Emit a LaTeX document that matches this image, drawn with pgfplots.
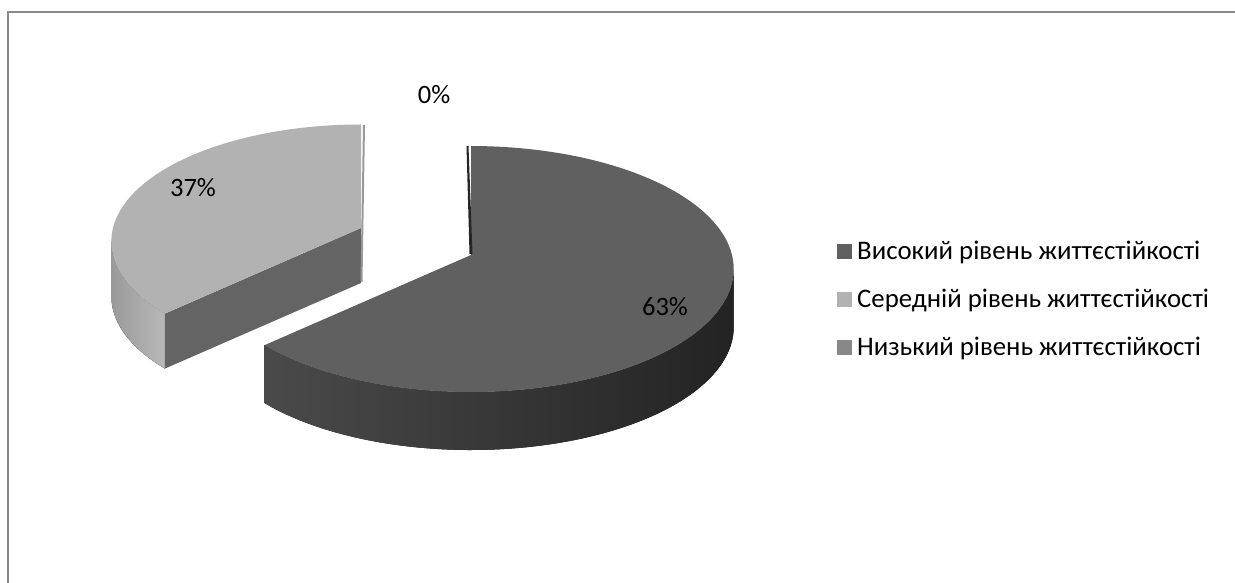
\documentclass[border=0pt]{standalone}
\usepackage{fontspec}
\setmainfont{Carlito}
\usepackage{pgfplots}
\pgfplotsset{compat=1.18}
\usepgfplotslibrary{fillbetween}

\definecolor{hiTop}{HTML}{606060}
\definecolor{hiSideL}{HTML}{4A4A4A}
\definecolor{hiSideR}{HTML}{232323}
\definecolor{midTop}{HTML}{B2B2B2}
\definecolor{midCut}{HTML}{646464}
\definecolor{midSideL}{HTML}{9A9A9A}
\definecolor{midSideR}{HTML}{B8B8B8}
\definecolor{lowCol}{HTML}{888888}
\definecolor{frameCol}{HTML}{8A8A8A}

% ---- data (percent) ----
\def\vHigh{63}
\def\vMid{37}
\def\vLow{0}

% ---- geometry (1 unit = 1 px) ----
\def\pa{0.114}
\def\cxA{471}\def\cyA{328}\def\rxA{261}\def\ryA{121.4}\def\dA{58}
\def\cxB{361}\def\cyB{355}\def\rxB{248}\def\ryB{115.3}\def\dB{55}

\pgfmathsetmacro\aSplit{90-3.6*\vHigh}
\pgfmathsetmacro\aMidEnd{90+3.6*\vMid}
\pgfmathsetmacro\silA{-asin(\pa)}
\pgfmathsetmacro\silB{180+asin(\pa)}
\pgfmathsetmacro\pBx{\cxB+\rxB*cos(\aMidEnd)/(1+\pa*sin(\aMidEnd))}
\pgfmathsetmacro\pBy{\cyB+\ryB*sin(\aMidEnd)/(1+\pa*sin(\aMidEnd))}
\pgfmathsetmacro\pByd{\pBy-\dB}
\pgfmathsetmacro\cyBd{\cyB-\dB}

\begin{document}%
\begin{tikzpicture}
\begin{axis}[
  x=1pt, y=1pt, xmin=0, xmax=1235, ymin=0, ymax=583,
  hide axis, clip=false,
  legend style={at={(axis cs:837,282.5)}, anchor=west, draw=none, fill=none,
    inner sep=0pt, outer sep=0pt, row sep=20pt,
    font=\fontsize{26.8}{32}\selectfont,
    nodes={inner sep=0pt, text height=21pt, text depth=7pt, anchor=base west}},
  legend image code/.code={\fill[#1, draw=none] (0pt,0pt) rectangle (15pt,15pt); \path (20pt,0pt);},
]
\coordinate (bbSW) at (axis cs:0,0);
\coordinate (bbNE) at (axis cs:1235,583);
% frame
\addplot[forget plot, frameCol, line width=2pt] coordinates {(8,0) (8,570.5) (1235,570.5)};

% ---- medium slice (37%) ----
\addplot[forget plot, name path=mT, draw=none, domain=\silB:\aMidEnd, samples=60, variable=\t]
  ({\cxB+\rxB*cos(\t)/(1+\pa*sin(\t))}, {\cyB+\ryB*sin(\t)/(1+\pa*sin(\t))});
\addplot[forget plot, name path=mB, draw=none, domain=\silB:\aMidEnd, samples=60, variable=\t]
  ({\cxB+\rxB*cos(\t)/(1+\pa*sin(\t))}, {\cyB-\dB+\ryB*sin(\t)/(1+\pa*sin(\t))});
\addplot[forget plot, left color=midSideL, right color=midSideR, draw=none] fill between[of=mT and mB];
\addplot[forget plot, fill=midCut, draw=none] coordinates {(\cxB,\cyB) (\pBx,\pBy) (\pBx,\pByd) (\cxB,\cyBd)} -- cycle;
\addplot[forget plot, fill=midTop, draw=none, domain=90:\aMidEnd, samples=100, variable=\t]
  ({\cxB+\rxB*cos(\t)/(1+\pa*sin(\t))}, {\cyB+\ryB*sin(\t)/(1+\pa*sin(\t))}) -- (axis cs:\cxB,\cyB) -- cycle;
\addplot[forget plot, fill=black!40, draw=none] coordinates {(363,458) (365,458) (362.5,301) (360.5,301)} -- cycle;

% ---- high slice (63%) ----
\addplot[forget plot, name path=hT, draw=none, domain=\aSplit:\silA, samples=80, variable=\t]
  ({\cxA+\rxA*cos(\t)/(1+\pa*sin(\t))}, {\cyA+\ryA*sin(\t)/(1+\pa*sin(\t))});
\addplot[forget plot, name path=hB, draw=none, domain=\aSplit:\silA, samples=80, variable=\t]
  ({\cxA+\rxA*cos(\t)/(1+\pa*sin(\t))}, {\cyA-\dA+\ryA*sin(\t)/(1+\pa*sin(\t))});
\addplot[forget plot, left color=hiSideL, right color=hiSideR, draw=none] fill between[of=hT and hB];
\addplot[forget plot, fill=hiTop, draw=none, domain=\aSplit:90, samples=150, variable=\t]
  ({\cxA+\rxA*cos(\t)/(1+\pa*sin(\t))}, {\cyA+\ryA*sin(\t)/(1+\pa*sin(\t))}) -- (axis cs:\cxA,\cyA) -- cycle;
\addplot[forget plot, fill=black!85, draw=none] coordinates {(466.5,437) (468.5,437) (472.5,329) (469.5,329)} -- cycle;

% ---- labels ----
\node[font=\fontsize{26.5}{32}\selectfont] at (axis cs:434,488) {0\%};
\node[font=\fontsize{26.5}{32}\selectfont] at (axis cs:193,395) {37\%};
\node[font=\fontsize{26.5}{32}\selectfont] at (axis cs:665,276) {63\%};

% ---- legend ----
\addlegendimage{fill=hiTop}
\addlegendentry{Високий рівень життєстійкості}
\addlegendimage{fill=midTop}
\addlegendentry{Середній рівень життєстійкості}
\addlegendimage{fill=lowCol}
\addlegendentry{Низький рівень життєстійкості}
\end{axis}
\pgfresetboundingbox
\path (bbSW) rectangle (bbNE);
\end{tikzpicture}%
\end{document}
